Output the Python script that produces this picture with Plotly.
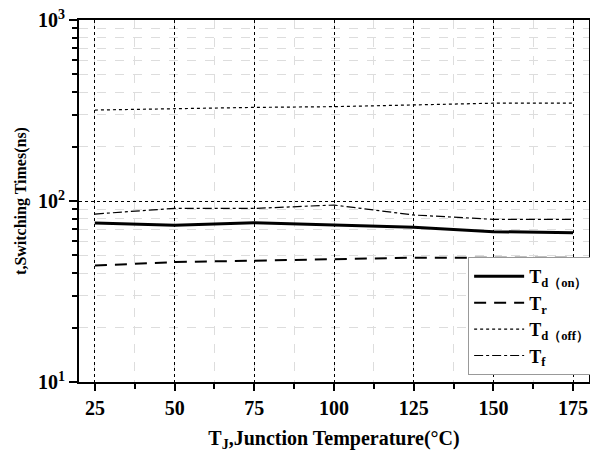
import plotly.graph_objects as go

temps = [25, 50, 75, 100, 125, 150, 175]
td_on = [75.5, 73.5, 75.9, 73.7, 71.6, 67.7, 66.8]
t_r = [44.0, 46.0, 46.8, 47.9, 48.6, 48.6, 48.6]
td_off = [318, 325, 329, 332, 338, 347, 347]
t_f = [84.7, 91.1, 91.0, 95.0, 83.7, 79.2, 79.2]

x_ticks = [25, 50, 75, 100, 125, 150, 175]
y_ticks = [10, 100, 1000]
y_ticktext = ["10<sup>1</sup>", "10<sup>2</sup>", "10<sup>3</sup>"]
y_minor = [v * m for m in (10, 100) for v in range(2, 10)]

FONT = "Liberation Serif"

fig = go.Figure()
fig.add_trace(go.Scatter(x=temps, y=td_on, mode="lines", name="T<sub>d（on）</sub>",
                         line=dict(color="black", width=3, dash="solid")))
fig.add_trace(go.Scatter(x=temps, y=t_r, mode="lines", name="T<sub>r</sub>",
                         line=dict(color="black", width=2, dash="12px,8px")))
fig.add_trace(go.Scatter(x=temps, y=td_off, mode="lines", name="T<sub>d（off）</sub>",
                         line=dict(color="black", width=1.2, dash="dot")))
fig.add_trace(go.Scatter(x=temps, y=t_f, mode="lines", name="T<sub>f</sub>",
                         line=dict(color="black", width=1.2, dash="dashdot")))

fig.update_layout(
    width=590, height=447,
    margin=dict(l=71, r=9, t=12, b=73, autoexpand=False),
    plot_bgcolor="white", paper_bgcolor="white",
    font=dict(family=FONT, color="black", weight="bold"),
    legend=dict(x=0.763, y=0.019, xanchor="left", yanchor="bottom",
                bgcolor="white", bordercolor="#999999", borderwidth=1,
                font=dict(family=FONT, size=18, color="black", weight="bold"),
                tracegroupgap=0, itemwidth=50),
    xaxis=dict(
        range=[20, 180], tickvals=x_ticks, ticks="outside", ticklen=7, tickwidth=1.5,
        tickcolor="black", automargin=False,
        showline=True, linecolor="black", linewidth=2, mirror=True,
        showgrid=True, gridcolor="black", griddash="dot", gridwidth=1,
        tickfont=dict(family=FONT, size=20, color="black", weight="bold"),
        title=dict(text="T<sub>J</sub>,Junction Temperature(°C)",
                   font=dict(family=FONT, size=20, color="black", weight="bold"), standoff=13),
        minor=dict(dtick=12.5, tick0=25, ticks="outside", ticklen=5, tickcolor="black",
                   showgrid=True, gridcolor="#dddddd", griddash="dash", gridwidth=1),
        zeroline=False,
    ),
    yaxis=dict(
        type="log", range=[1, 3], tickvals=y_ticks, ticktext=y_ticktext,
        ticks="outside", ticklen=8, tickwidth=1.5, tickcolor="black", automargin=False,
        ticklabeloverflow="allow",
        showline=True, linecolor="black", linewidth=2, mirror=True,
        showgrid=True, gridcolor="black", griddash="dot", gridwidth=1,
        tickfont=dict(family=FONT, size=20, color="black", weight="bold"),
        title=dict(text="t,Switching Times(ns)",
                   font=dict(family=FONT, size=16, color="black", weight="bold"), standoff=7),
        minor=dict(tickvals=y_minor, ticks="outside", ticklen=5, tickcolor="black",
                   showgrid=True, gridcolor="#dddddd", griddash="dash", gridwidth=1),
        zeroline=False,
    ),
)

fig.write_html("out.html")
